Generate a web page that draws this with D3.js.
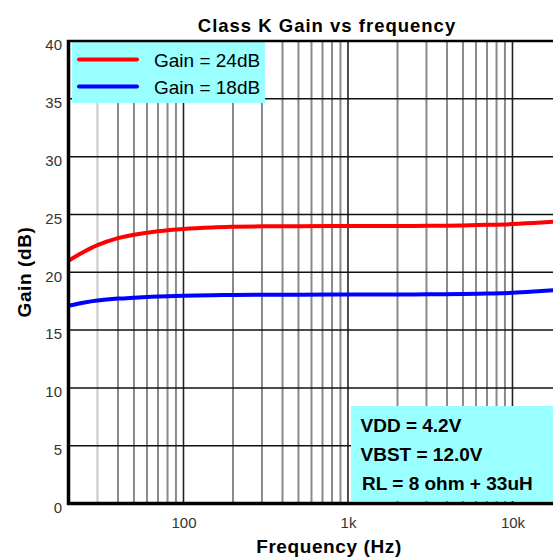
<!DOCTYPE html>
<html><head><meta charset="utf-8">
<script src="https://cdn.jsdelivr.net/npm/d3@7"></script>
<style>body{margin:0;background:#fff}svg{display:block;font-family:"Liberation Sans",Arial,sans-serif}</style>
</head><body>
<svg id="c" width="553" height="559"></svg>
<script>
const freqs = [20, 25, 30, 40, 50, 70, 100, 150, 200, 300, 500, 1000, 2000, 3000, 5000, 7000, 10000, 15000, 20000];
const gain24 = [21.0, 21.8, 22.35, 22.95, 23.25, 23.55, 23.75, 23.88, 23.93, 23.97, 23.98, 24.0, 24.0, 24.02, 24.05, 24.1, 24.17, 24.3, 24.42];
const gain18 = [17.1, 17.38, 17.55, 17.72, 17.8, 17.9, 17.97, 18.02, 18.04, 18.06, 18.06, 18.07, 18.08, 18.09, 18.12, 18.16, 18.22, 18.38, 18.5];
const seriesNames = ["Gain = 24dB", "Gain = 18dB"];
const seriesColors = ["#ff0000", "#0000ff"];
const xTickValues = [100, 1000, 10000];
const xTickLabels = ["100", "1k", "10k"];
const yTickValues = [0, 5, 10, 15, 20, 25, 30, 35, 40];
const noteLines = ["VDD = 4.2V", "VBST = 12.0V", "RL = 8 ohm + 33uH"];
const title = "Class K Gain vs frequency";
const xTitle = "Frequency (Hz)";
const yTitle = "Gain (dB)";

const svg = d3.select("#c");
const x = d3.scaleLog().domain([20, 20000]).range([68.5, 562]);
const y = d3.scaleLinear().domain([0, 40]).range([503.5, 41]);

// minor vertical grid
const minor = [];
[10, 100, 1000].forEach(d => { for (let k = 2; k <= 9; k++) { const v = d * k; if (v > 20 && v < 20000) minor.push(v); } });
svg.append("g").selectAll("line").data(minor).join("line")
  .attr("x1", d => x(d)).attr("x2", d => x(d)).attr("y1", y(40)).attr("y2", y(0))
  .attr("stroke", d => d === 30 ? "#c8c8c8" : "#8a8a8a").attr("stroke-width", 2);
// major vertical grid
svg.append("g").selectAll("line").data(xTickValues).join("line")
  .attr("x1", d => x(d)).attr("x2", d => x(d)).attr("y1", y(40)).attr("y2", y(0))
  .attr("stroke", "#222").attr("stroke-width", 1.6);
// horizontal grid
svg.append("g").selectAll("line").data(yTickValues.filter(v => v > 0 && v < 40)).join("line")
  .attr("x1", x(20)).attr("x2", 553).attr("y1", d => y(d)).attr("y2", d => y(d))
  .attr("stroke", "#111").attr("stroke-width", 1.5);

// curves
const line = d3.line().x(d => x(d[0])).y(d => y(d[1])).curve(d3.curveCatmullRom.alpha(0.5));
[gain24, gain18].forEach((s, i) => {
  svg.append("path").datum(freqs.map((f, j) => [f, s[j]]))
    .attr("d", line).attr("fill", "none").attr("stroke", seriesColors[i]).attr("stroke-width", 4);
});

// legend
const lg = svg.append("g");
lg.append("rect").attr("x", 72).attr("y", 42).attr("width", 193).attr("height", 61).attr("fill", "#99ffff");
seriesNames.forEach((n, i) => {
  const yy = 59.5 + i * 27;
  lg.append("line").attr("x1", 79).attr("x2", 137).attr("y1", yy).attr("y2", yy)
    .attr("stroke", seriesColors[i]).attr("stroke-width", 4).attr("stroke-linecap", "round");
  lg.append("text").attr("x", 154).attr("y", yy + 7).attr("font-size", 19).attr("fill", "#000").text(n);
});

// annotation box
svg.append("rect").attr("x", 351).attr("y", 406).attr("width", 210).attr("height", 95).attr("fill", "#99ffff");
noteLines.forEach((t, i) => {
  svg.append("text").attr("x", i === 2 ? 362 : 360.5).attr("y", 432 + i * 29)
    .attr("font-size", 19).attr("font-weight", "bold").attr("fill", "#000").text(t);
});

// axes frame
svg.append("line").attr("x1", x(20) - 1.5).attr("x2", 553).attr("y1", y(40)).attr("y2", y(40)).attr("stroke", "#000").attr("stroke-width", 2.5);
svg.append("line").attr("x1", x(20)).attr("x2", x(20)).attr("y1", y(40) - 1).attr("y2", y(0) + 1.5).attr("stroke", "#000").attr("stroke-width", 3.5);
svg.append("line").attr("x1", x(20) - 1.5).attr("x2", 553).attr("y1", y(0)).attr("y2", y(0)).attr("stroke", "#000").attr("stroke-width", 3.5);

// tick labels via axes
const yAxis = d3.axisLeft(y).tickValues(yTickValues).tickSize(0).tickPadding(0);
const gy = svg.append("g").attr("transform", "translate(62,4)").call(yAxis);
gy.select(".domain").remove();
gy.selectAll("text").attr("font-size", 15).attr("fill", "#333").attr("font-family", "'Liberation Sans', Arial, sans-serif");

const xAxis = d3.axisBottom(x).tickValues(xTickValues).tickFormat((d, i) => xTickLabels[i]).tickSize(0).tickPadding(0);
const gx = svg.append("g").attr("transform", "translate(0,517)").call(xAxis);
gx.select(".domain").remove();
gx.selectAll("text").attr("font-size", 15).attr("fill", "#333").attr("font-family", "'Liberation Sans', Arial, sans-serif");

// titles
svg.append("text").attr("x", 327).attr("y", 31.5).attr("text-anchor", "middle")
  .attr("font-size", 18.5).attr("font-weight", "bold").attr("letter-spacing", 1).text(title);
svg.append("text").attr("x", 329).attr("y", 553).attr("text-anchor", "middle")
  .attr("font-size", 19).attr("font-weight", "bold").attr("letter-spacing", 0.6).text(xTitle);
svg.append("text").attr("transform", "translate(31,272) rotate(-90)").attr("text-anchor", "middle")
  .attr("font-size", 19).attr("font-weight", "bold").attr("letter-spacing", 0.6).text(yTitle);
</script>
</body></html>
